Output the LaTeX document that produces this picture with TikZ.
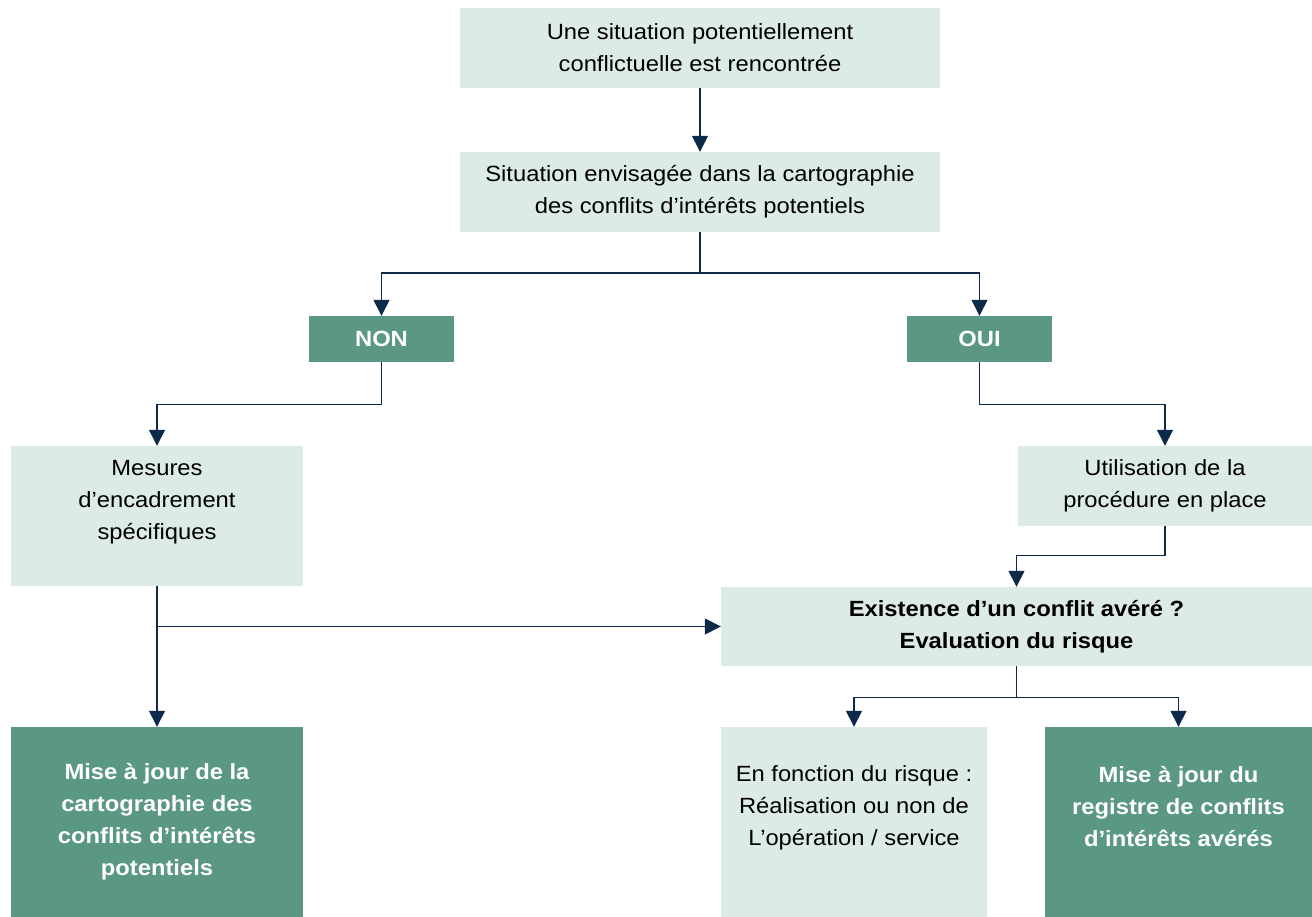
\documentclass[tikz,border=0pt]{standalone}
\usepackage{fontspec}
\setmainfont{Liberation Sans}[FakeStretch=1.08]
\usetikzlibrary{arrows.meta}
\definecolor{lightbox}{HTML}{DDEBE6}
\definecolor{darkbox}{HTML}{5A9784}
\definecolor{navy}{HTML}{0E2A4A}
\tikzset{
  base/.style={rectangle, inner sep=0pt, align=center, font=\fontsize{22}{32}\selectfont},
  light/.style={base, fill=lightbox, text=black},
  dark/.style={base, fill=darkbox, text=white, font=\fontsize{22}{32}\selectfont\bfseries},
  arr/.style={draw=navy, line width=1.4pt, -{Triangle[width=16pt,length=16pt]}}
}
\begin{document}
\begin{tikzpicture}[x=1pt,y=-1pt]
\useasboundingbox (0,0) rectangle (1312,917);
\node[light, minimum width=480pt, minimum height=80pt] (top) at (700,48) {Une situation potentiellement\\conflictuelle est rencontrée};
\node[light, minimum width=480pt, minimum height=80pt] (sit) at (700,192) {Situation envisagée dans la cartographie\\des conflits d’intérêts potentiels};
\node[dark, minimum width=145pt, minimum height=46pt] (non) at (381.5,339) {NON};
\node[dark, minimum width=145pt, minimum height=46pt] (oui) at (979.5,339) {OUI};
\node[light, minimum width=292pt, minimum height=140pt] (mes) at (157,516) {Mesures\\d’encadrement\\spécifiques\\\mbox{}};
\node[light, minimum width=294pt, minimum height=80pt] (util) at (1165,486) {Utilisation de la\\procédure en place};
\node[light, minimum width=591pt, minimum height=79pt, font=\fontsize{22}{32}\selectfont\bfseries] (exist) at (1016.5,626.5) {Existence d’un conflit avéré ?\\Evaluation du risque};
\node[dark, minimum width=292pt, minimum height=190pt] (majc) at (157,822) {Mise à jour de la\\cartographie des\\conflits d’intérêts\\potentiels};
\node[light, minimum width=266pt, minimum height=190pt] (enf) at (854,822) {En fonction du risque :\\Réalisation ou non de\\L’opération / service\\\mbox{}};
\node[dark, minimum width=267pt, minimum height=190pt] (majr) at (1178.5,822) {Mise à jour du\\registre de conflits\\d’intérêts avérés\\\mbox{}};

\draw[arr] (top) -- (sit);
\draw[arr] (sit.south) -- ++(0,41) -| (non.north);
\draw[arr] (sit.south) -- ++(0,41) -| (oui.north);
\draw[arr] (non.south) -- ++(0,42) -| (mes.north);
\draw[arr] (oui.south) -- ++(0,42) -| (util.north);
\draw[arr] (util.south) -- ++(0,29) -| (exist.north);
\draw[arr] (mes.south) -- (majc.north);
\coordinate (br) at (mes.south |- exist.west);
\draw[arr] (br) -- (exist.west);
\draw[arr] (exist.south) -- ++(0,31) -| (enf.north);
\draw[arr] (exist.south) -- ++(0,31) -| (majr.north);
\end{tikzpicture}
\end{document}
